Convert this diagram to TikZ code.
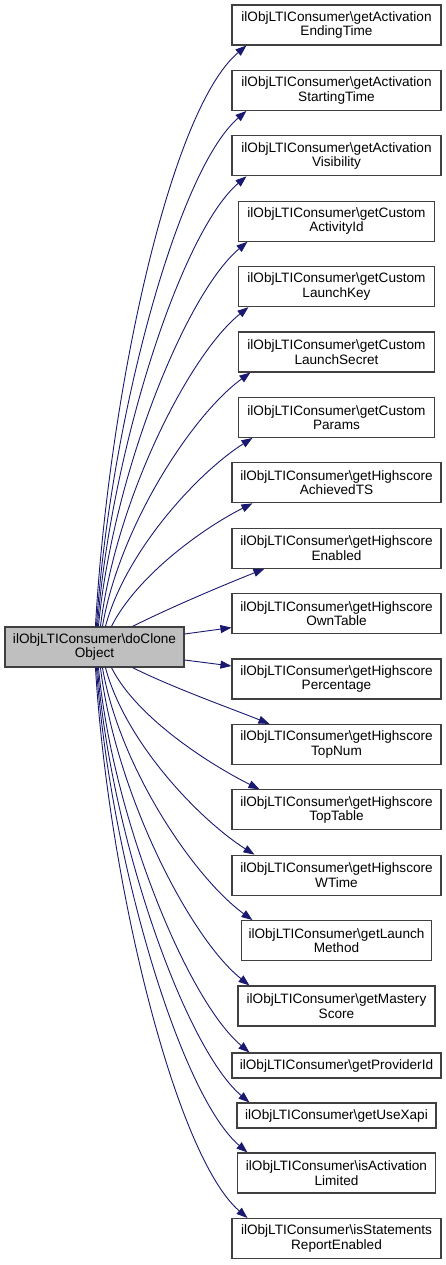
\documentclass[tikz,border=0pt]{standalone}
\usepackage{fontspec}
\setmainfont{Liberation Sans}
\usetikzlibrary{arrows.meta}
\definecolor{edgeblue}{HTML}{191970}
\definecolor{boxline}{HTML}{404040}
\definecolor{srcfill}{HTML}{BFBFBF}
\begin{document}
\begin{tikzpicture}[x=1pt,y=-1pt,
  box/.style={draw=boxline, line width=1.1pt, fill=white, inner sep=0pt, align=center,
    font=\fontsize{13.6}{14.5}\selectfont, minimum height=40pt},
  one/.style={box, minimum height=25pt},
  srcbox/.style={box, fill=srcfill},
  link/.style={draw=edgeblue, line width=0.9pt, -{Triangle[length=11pt,width=8pt]}}]
\useasboundingbox (0,0) rectangle (445,1265);

\node[srcbox, minimum width=179pt] (src) at (94.5,647) {ilObjLTIConsumer\textbackslash doClone\\Object};

\node[box, minimum width=209pt] (t1) at (336.5,25) {ilObjLTIConsumer\textbackslash getActivation\\EndingTime};
\node[box, minimum width=209pt] (t2) at (336.5,90.4) {ilObjLTIConsumer\textbackslash getActivation\\StartingTime};
\node[box, minimum width=209pt] (t3) at (336.5,155.8) {ilObjLTIConsumer\textbackslash getActivation\\Visibility};
\node[box, minimum width=196pt] (t4) at (336.5,221.2) {ilObjLTIConsumer\textbackslash getCustom\\ActivityId};
\node[box, minimum width=196pt] (t5) at (336.5,286.6) {ilObjLTIConsumer\textbackslash getCustom\\LaunchKey};
\node[box, minimum width=196pt] (t6) at (336.5,352) {ilObjLTIConsumer\textbackslash getCustom\\LaunchSecret};
\node[box, minimum width=196pt] (t7) at (336.5,417.4) {ilObjLTIConsumer\textbackslash getCustom\\Params};
\node[box, minimum width=209pt] (t8) at (336.5,482.8) {ilObjLTIConsumer\textbackslash getHighscore\\AchievedTS};
\node[box, minimum width=209pt] (t9) at (336.5,548.2) {ilObjLTIConsumer\textbackslash getHighscore\\Enabled};
\node[box, minimum width=209pt] (t10) at (336.5,613.6) {ilObjLTIConsumer\textbackslash getHighscore\\OwnTable};
\node[box, minimum width=209pt] (t11) at (336.5,679) {ilObjLTIConsumer\textbackslash getHighscore\\Percentage};
\node[box, minimum width=209pt] (t12) at (336.5,744.4) {ilObjLTIConsumer\textbackslash getHighscore\\TopNum};
\node[box, minimum width=209pt] (t13) at (336.5,809.8) {ilObjLTIConsumer\textbackslash getHighscore\\TopTable};
\node[box, minimum width=209pt] (t14) at (336.5,875.2) {ilObjLTIConsumer\textbackslash getHighscore\\WTime};
\node[box, minimum width=190pt] (t15) at (336.5,940.6) {ilObjLTIConsumer\textbackslash getLaunch\\Method};
\node[box, minimum width=197pt] (t16) at (336.5,1006) {ilObjLTIConsumer\textbackslash getMastery\\Score};
\node[one, minimum width=209pt] (t17) at (336.5,1065.5) {ilObjLTIConsumer\textbackslash getProviderId};
\node[one, minimum width=199pt] (t18) at (336.5,1115.5) {ilObjLTIConsumer\textbackslash getUseXapi};
\node[box, minimum width=198pt] (t19) at (336.5,1173) {ilObjLTIConsumer\textbackslash isActivation\\Limited};
\node[box, minimum width=209pt] (t20) at (336.5,1238.5) {ilObjLTIConsumer\textbackslash isStatements\\ReportEnabled};

% upper edges
\draw[link] ([xshift=91pt]src.north west) .. controls +(13,-230) and +(-77,65) .. ([xshift=15pt]t1.south west);
\draw[link] ([xshift=92pt]src.north west) .. controls +(13,-200) and +(-70,60) .. ([xshift=15pt]t2.south west);
\draw[link] ([xshift=93pt]src.north west) .. controls +(13,-175) and +(-65,55) .. ([xshift=15pt]t3.south west);
\draw[link] ([xshift=94pt]src.north west) .. controls +(14,-150) and +(-62,52) .. ([xshift=9.5pt]t4.south west);
\draw[link] ([xshift=96pt]src.north west) .. controls +(15,-125) and +(-60,48) .. ([xshift=10.5pt]t5.south west);
\draw[link] ([xshift=98pt]src.north west) .. controls +(17,-100) and +(-58,42) .. ([xshift=12.5pt]t6.south west);
\draw[link] ([xshift=101pt]src.north west) .. controls +(20,-75) and +(-55,35) .. ([xshift=14.5pt]t7.south west);
\draw[link] ([xshift=107pt]src.north west) .. controls +(25,-50) and +(-50,25) .. ([xshift=21pt]t8.south west);
\draw[link] ([xshift=128pt]src.north west) .. controls +(40,-20) and +(-40,16) .. ([xshift=33pt]t9.south west);
% side edges
\draw[link] ([yshift=13pt]src.east) -- ([yshift=-14pt]t10.west);
\draw[link] ([yshift=-13pt]src.east) -- ([yshift=13pt]t11.west);
% lower edges
\draw[link] ([xshift=128pt]src.south west) .. controls +(40,20) and +(-40,-16) .. ([xshift=38pt]t12.north west);
\draw[link] ([xshift=107pt]src.south west) .. controls +(25,50) and +(-50,-25) .. ([xshift=28pt]t13.north west);
\draw[link] ([xshift=101pt]src.south west) .. controls +(20,75) and +(-55,-35) .. ([xshift=23pt]t14.north west);
\draw[link] ([xshift=98pt]src.south west) .. controls +(17,100) and +(-58,-42) .. ([xshift=11.5pt]t15.north west);
\draw[link] ([xshift=96pt]src.south west) .. controls +(15,125) and +(-60,-48) .. ([xshift=12pt]t16.north west);
\draw[link] ([xshift=94pt]src.south west) .. controls +(14,150) and +(-62,-52) .. ([xshift=18pt]t17.north west);
\draw[link] ([xshift=93pt]src.south west) .. controls +(13,170) and +(-64,-54) .. ([xshift=13pt]t18.north west);
\draw[link] ([xshift=92pt]src.south west) .. controls +(13,190) and +(-67,-57) .. ([xshift=10.5pt]t19.north west);
\draw[link] ([xshift=91pt]src.south west) .. controls +(13,215) and +(-72,-62) .. ([xshift=16pt]t20.north west);
\end{tikzpicture}
\end{document}
